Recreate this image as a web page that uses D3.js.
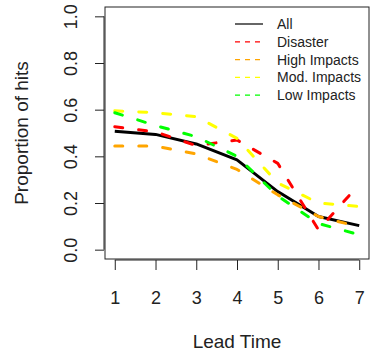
<!DOCTYPE html>
<html>
<head>
<meta charset="utf-8">
<script src="https://cdn.jsdelivr.net/npm/d3@7"></script>
<style>
  body { margin: 0; background: #fff; }
  text { font-family: "Liberation Sans", Arial, sans-serif; fill: #222; }
</style>
</head>
<body>
<div id="chart"></div>
<script>
const leadTimes = [1, 2, 3, 4, 5, 6, 7];
const allHits = [0.508, 0.494, 0.453, 0.385, 0.249, 0.142, 0.103];
const disasterHits = [0.527, 0.505, 0.446, 0.47, 0.37, 0.085, 0.28];
const highHits = [0.444, 0.444, 0.41, 0.344, 0.235, 0.142, 0.098];
const modHits = [0.595, 0.587, 0.57, 0.477, 0.286, 0.20, 0.185];
const lowHits = [0.587, 0.532, 0.484, 0.40, 0.23, 0.112, 0.064];
const yTicks = [0, 0.2, 0.4, 0.6, 0.8, 1.0];

const series = [
  { name: 'All', values: allHits, color: '#000000', dashed: false },
  { name: 'Disaster', values: disasterHits, color: '#ff0000', dashed: true },
  { name: 'High Impacts', values: highHits, color: '#ffa500', dashed: true },
  { name: 'Mod. Impacts', values: modHits, color: '#ffff00', dashed: true },
  { name: 'Low Impacts', values: lowHits, color: '#00ff00', dashed: true }
];

const width = 374, height = 355;
const plot = { left: 105, right: 369, top: 7, bottom: 259 };

const svg = d3.select('#chart').append('svg')
  .attr('width', width)
  .attr('height', height);

// R-style 4% padding on both axes
const x = d3.scaleLinear().domain([0.76, 7.24]).range([plot.left, plot.right]);
const y = d3.scaleLinear().domain([-0.04, 1.04]).range([plot.bottom, plot.top]);

const line = d3.line()
  .x((d, i) => x(leadTimes[i]))
  .y(d => y(d));

svg.append('g').selectAll('path')
  .data(series)
  .join('path')
  .attr('d', d => line(d.values))
  .attr('fill', 'none')
  .attr('stroke', d => d.color)
  .attr('stroke-width', 3)
  .attr('stroke-linecap', d => d.dashed ? 'round' : 'butt')
  .attr('stroke-linejoin', 'round')
  .attr('stroke-dasharray', d => d.dashed ? '8,16' : null);

// box
svg.append('rect')
  .attr('x', plot.left)
  .attr('y', plot.top)
  .attr('width', plot.right - plot.left)
  .attr('height', plot.bottom - plot.top)
  .attr('fill', 'none')
  .attr('stroke', '#222')
  .attr('stroke-width', 1);

// x axis
const xAxis = svg.append('g')
  .attr('transform', `translate(0,${plot.bottom + 1})`)
  .call(d3.axisBottom(x).tickValues(leadTimes).tickFormat(d3.format('d'))
    .tickSize(10).tickSizeOuter(0).tickPadding(21));
xAxis.select('.domain').attr('stroke', '#222').attr('d', `M${x(1)},0H${x(7)}`);
xAxis.selectAll('.tick line').attr('stroke', '#222');
xAxis.selectAll('.tick text')
  .style('font-size', '18px')
  .style('font-family', '"Liberation Sans", Arial, sans-serif')
  .attr('fill', '#222');

// y axis
const yAxis = svg.append('g')
  .attr('transform', `translate(${plot.left - 1},0)`)
  .call(d3.axisLeft(y).tickValues(yTicks).tickSize(9).tickSizeOuter(0).tickFormat(d3.format('.1f')));
yAxis.select('.domain').attr('stroke', '#222').attr('d', `M0,${y(0)}V${y(1)}`);
yAxis.selectAll('.tick line').attr('stroke', '#222');
yAxis.selectAll('.tick text')
  .attr('x', null)
  .attr('dy', null)
  .attr('transform', 'translate(-27,0) rotate(-90)')
  .attr('text-anchor', 'middle')
  .style('font-size', '18px')
  .style('font-family', '"Liberation Sans", Arial, sans-serif')
  .attr('fill', '#222');

// axis titles
svg.append('text')
  .attr('x', x(4))
  .attr('y', 348)
  .attr('text-anchor', 'middle')
  .style('font-size', '19px')
  .text('Lead Time');

svg.append('text')
  .attr('transform', `translate(28,${(plot.top + plot.bottom) / 2}) rotate(-90)`)
  .attr('text-anchor', 'middle')
  .style('font-size', '19px')
  .text('Proportion of hits');

// legend
const legend = svg.append('g').attr('transform', 'translate(235,24)');
const rows = legend.selectAll('g')
  .data(series)
  .join('g')
  .attr('transform', (d, i) => `translate(0,${i * 17.8})`);
rows.append('line')
  .attr('x1', 0).attr('x2', 28)
  .attr('stroke', d => d.color)
  .attr('stroke-width', 1.2)
  .attr('stroke-dasharray', d => d.dashed ? '5,5' : null);
rows.append('text')
  .attr('x', 42)
  .attr('dy', '0.35em')
  .style('font-size', '14px')
  .text(d => d.name);
</script>
</body>
</html>
